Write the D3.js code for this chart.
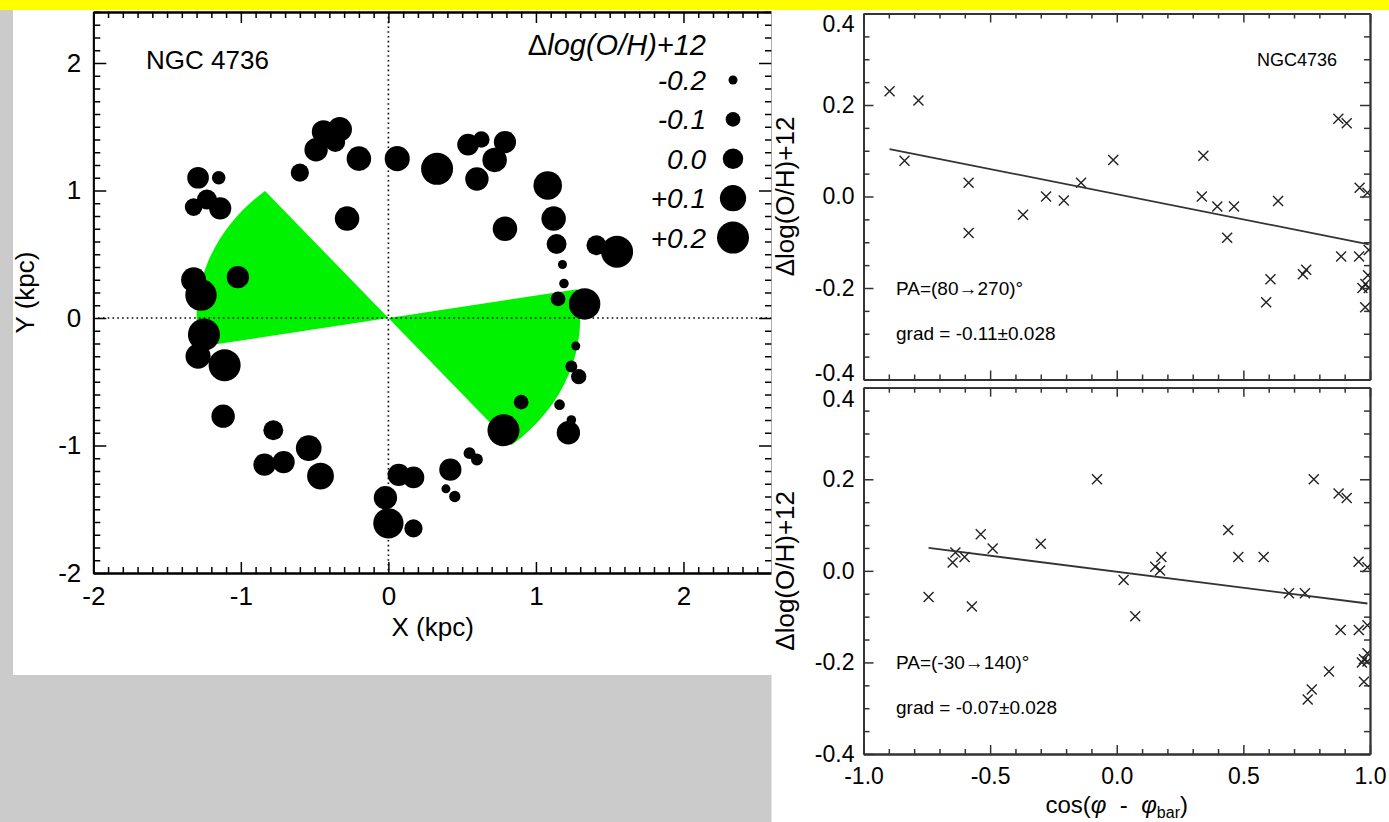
<!DOCTYPE html>
<html>
<head>
<meta charset="utf-8">
<script src="https://cdn.jsdelivr.net/npm/d3@7"></script>
<style>
  html, body { margin: 0; padding: 0; background: #cbcbcb; }
  svg { display: block; }
</style>
</head>
<body>
<svg id="fig" width="1389" height="822"></svg>
<script>
// ---------------- data ----------------
// HII regions of NGC 4736 in the deprojected disc plane (kpc)
const regionX = [-1.29, -1.15, -1.32, -1.23, -1.14, -1.32, -1.27, -1.02, -1.25, -1.29,
                 -1.11, -0.60, -0.44, -0.33, -0.36, -0.49, -0.20, 0.06, 0.33, 0.54,
                 0.63, 0.79, 0.72, 0.60, 1.08, 1.12, 0.79, -0.28, 1.14, 1.41,
                 1.55, 1.18, 1.19, 1.15, 1.33, 1.27, 1.24, 1.29, 0.90, 1.16,
                 0.78, 1.24, 1.22, 0.55, 0.60, 0.42, 0.07, 0.17, 0.39, 0.45,
                 -0.02, 0.00, 0.17, -1.12, -0.78, -0.84, -0.71, -0.54, -0.46];
const regionY = [1.10, 1.10, 0.87, 0.93, 0.86, 0.30, 0.18, 0.32, -0.13, -0.30,
                 -0.37, 1.14, 1.46, 1.48, 1.38, 1.32, 1.25, 1.25, 1.17, 1.36,
                 1.40, 1.38, 1.24, 1.09, 1.04, 0.78, 0.70, 0.78, 0.58, 0.57,
                 0.52, 0.42, 0.27, 0.15, 0.11, -0.22, -0.38, -0.46, -0.66, -0.68,
                 -0.88, -0.80, -0.90, -1.06, -1.11, -1.19, -1.23, -1.25, -1.34, -1.40,
                 -1.41, -1.61, -1.65, -0.77, -0.88, -1.15, -1.13, -1.02, -1.24];
// abundance residual Δlog(O/H)+12 of each region
const regionDZ = [0.02, -0.12, -0.05, -0.01, 0.03, 0.08, 0.19, 0.03, 0.20, 0.08,
                  0.20, -0.04, 0.05, 0.07, -0.01, 0.05, 0.07, 0.08, 0.20, 0.02,
                  -0.07, 0.03, 0.07, 0.05, 0.14, 0.07, 0.07, 0.07, -0.01, -0.01,
                  0.20, -0.20, -0.19, -0.10, 0.19, -0.20, -0.15, -0.09, -0.10, -0.17,
                  0.20, -0.19, 0.05, -0.15, -0.15, 0.03, 0.03, 0.02, -0.20, -0.16,
                  0.05, 0.17, -0.04, 0.05, -0.01, 0.03, 0.03, 0.09, 0.11];

const legendValues = [-0.2, -0.1, 0.0, 0.1, 0.2];
const legendLabels = ["-0.2", "-0.1", "0.0", "+0.1", "+0.2"];

// bar sectors (position angle in the disc plane, degrees from +X, counter-clockwise)
const sectorAngles = [[-50, 10], [130, 190]];
const sectorRadius = 1.3;

const mapMajorX = [-2, -1, 0, 1, 2];
const mapMajorY = [-2, -1, 0, 1, 2];

// residual versus cos(phi - phi_bar), two bar orientations
const cosA = [-0.897, -0.783, -0.838, -0.585, -0.585, -0.370, -0.279, -0.209, -0.141, -0.014,
              0.342, 0.336, 0.397, 0.463, 0.436, 0.637, 0.875, 0.908, 0.959, 0.990,
              0.886, 0.957, 0.995, 0.607, 0.590, 0.735, 0.748, 0.970, 0.982, 0.992,
              0.981, 0.995];
const dzA  = [0.230, 0.210, 0.078, 0.030, -0.080, -0.040, 0.000, -0.009, 0.030, 0.080,
              0.089, 0.000, -0.022, -0.022, -0.090, -0.010, 0.170, 0.160, 0.019, 0.008,
              -0.131, -0.131, -0.117, -0.181, -0.231, -0.170, -0.160, -0.200, -0.191, -0.172,
              -0.242, -0.200];
const cosB = [-0.743, -0.648, -0.637, -0.601, -0.537, -0.490, -0.572, -0.300, -0.078, 0.027,
              0.073, 0.152, 0.171, 0.176, 0.440, 0.480, 0.580, 0.680, 0.743, 0.778,
              0.876, 0.908, 0.955, 0.990, 0.884, 0.956, 0.990, 0.838, 0.770, 0.754,
              0.968, 0.976, 0.990, 0.976, 0.990];
const dzB  = [-0.057, 0.018, 0.040, 0.030, 0.080, 0.049, -0.078, 0.059, 0.200, -0.020,
              -0.099, 0.009, 0.001, 0.030, 0.089, 0.030, 0.030, -0.049, -0.049, 0.200,
              0.169, 0.159, 0.020, 0.008, -0.129, -0.129, -0.119, -0.220, -0.259, -0.281,
              -0.200, -0.193, -0.180, -0.242, -0.198];

const fitA = { slope: -0.11, intercept: 0.005, err: 0.028, pa: "(80\u2192270)\u00B0" };
const fitB = { slope: -0.07, intercept: -0.002, err: 0.028, pa: "(-30\u2192140)\u00B0" };

const resMajorX = [-1.0, -0.5, 0.0, 0.5, 1.0];
const resMajorY = [-0.4, -0.2, 0.0, 0.2, 0.4];

// ---------------- drawing ----------------
const W = 1389, H = 822;
const FONT = "'Liberation Sans', Arial, Helvetica, sans-serif";
const svg = d3.select("#fig");

svg.append("rect").attr("width", W).attr("height", H).attr("fill", "#cbcbcb");
svg.append("rect").attr("x", 0).attr("y", 0).attr("width", W).attr("height", 10).attr("fill", "#ffff00");
svg.append("rect").attr("x", 13).attr("y", 10).attr("width", 760).attr("height", 665).attr("fill", "#ffffff");

// draws one side of an IDL-style box axis: inward minor + major ticks, optional labels
function sideAxis(g, scale, orient, pos, majors, minors, majLen, minLen, o = {}) {
  const gen = { bottom: d3.axisBottom, top: d3.axisTop, left: d3.axisLeft, right: d3.axisRight }[orient];
  const horiz = orient === "bottom" || orient === "top";
  const tr = horiz ? `translate(0,${pos})` : `translate(${pos},0)`;
  const color = o.color || "#000";
  const gm = g.append("g").attr("transform", tr)
    .call(gen(scale).tickValues(minors).tickSizeInner(-minLen).tickSizeOuter(0).tickFormat(""));
  const gM = g.append("g").attr("transform", tr)
    .call(gen(scale).tickValues(majors).tickSizeInner(-majLen).tickSizeOuter(0)
      .tickPadding(o.pad || 0).tickFormat(o.fmt || (() => "")));
  [gm, gM].forEach(a => {
    a.attr("font-family", FONT).attr("font-size", o.fontSize || 20);
    a.select(".domain").attr("stroke", color).attr("stroke-width", o.lw || 1.8);
    a.selectAll(".tick line").attr("stroke", color).attr("stroke-width", o.tw || 1.5);
    a.selectAll(".tick text").attr("fill", "#000");
  });
  return gM;
}

// ===== left: map of regions =====
const mx = d3.scaleLinear().domain([-2, 2.6]).range([93.3, 772]);
const my = d3.scaleLinear().domain([-2, 2.4]).range([573, 12]);
const rScale = d3.scaleLinear().domain([-0.2, 0.2]).range([4.5, 16]);
const left = svg.append("g");

// bar sectors, drawn with d3.arc in x-pixel units and squeezed to the y scale
const kx = mx(1) - mx(0), ky = my(0) - my(1);
const arc = d3.arc().innerRadius(0).outerRadius(sectorRadius * kx);
left.selectAll("path.sector").data(sectorAngles).join("path")
  .attr("class", "sector")
  .attr("transform", `translate(${mx(0)},${my(0)}) scale(1,${ky / kx})`)
  .attr("d", d => arc({ startAngle: (90 - d[1]) * Math.PI / 180, endAngle: (90 - d[0]) * Math.PI / 180 }))
  .attr("fill", "#00f200");

// dotted zero lines
left.append("line").attr("x1", mx(0)).attr("x2", mx(0)).attr("y1", my(2.4)).attr("y2", my(-2))
  .attr("stroke", "#000").attr("stroke-width", 1.6).attr("stroke-dasharray", "1.6,3.2");
left.append("line").attr("x1", mx(-2)).attr("x2", mx(2.6)).attr("y1", my(0)).attr("y2", my(0))
  .attr("stroke", "#000").attr("stroke-width", 1.6).attr("stroke-dasharray", "1.6,3.2");

// regions
const regions = regionX.map((x, i) => ({ x, y: regionY[i], dz: regionDZ[i] }));
left.selectAll("circle.region").data(regions).join("circle")
  .attr("class", "region")
  .attr("cx", d => mx(d.x)).attr("cy", d => my(d.y)).attr("r", d => rScale(d.dz))
  .attr("fill", "#000");

// axes
const mMinX = d3.range(-20, 27).map(i => i / 10).filter(v => !mapMajorX.includes(v));
const mMinY = d3.range(-20, 25).map(i => i / 10).filter(v => !mapMajorY.includes(v));
sideAxis(left, mx, "bottom", my(-2), mapMajorX, mMinX, 11, 6, { pad: 14, fmt: d => String(d), fontSize: 26 });
sideAxis(left, mx, "top", my(2.4), mapMajorX, mMinX, 11, 6);
sideAxis(left, my, "left", mx(-2), mapMajorY, mMinY, 13, 7, { pad: 12, fmt: d => String(d), fontSize: 26 });
sideAxis(left, my, "right", mx(2.6), mapMajorY, mMinY, 13, 7);

left.append("text").attr("x", (mx(-2) + mx(2.6)) / 2).attr("y", 636)
  .attr("text-anchor", "middle").attr("font-family", FONT).attr("font-size", 26).text("X (kpc)");
left.append("text").attr("transform", `translate(34,${(my(-2) + my(2.4)) / 2}) rotate(-90)`)
  .attr("text-anchor", "middle").attr("font-family", FONT).attr("font-size", 26).text("Y (kpc)");
left.append("text").attr("x", 146).attr("y", 69)
  .attr("font-family", FONT).attr("font-size", 26).text("NGC 4736");

// size legend
const leg = left.append("g").attr("font-family", FONT);
const legTitle = leg.append("text").attr("x", 706).attr("y", 55).attr("text-anchor", "end").attr("font-size", 29);
legTitle.append("tspan").text("\u0394");
legTitle.append("tspan").attr("font-style", "italic").text("log(O/H)+12");
legendValues.forEach((v, i) => {
  const yy = 80 + i * 39.4;
  leg.append("text").attr("x", 706).attr("y", yy + 10).attr("text-anchor", "end")
    .attr("font-size", 28).attr("font-style", "italic").text(legendLabels[i]);
  leg.append("circle").attr("cx", 733).attr("cy", yy).attr("r", rScale(v)).attr("fill", "#000");
});

// ===== right: residual versus azimuth =====
svg.append("rect").attr("x", 771.5).attr("y", 10).attr("width", W - 771.5).attr("height", H - 10).attr("fill", "#ffffff");

const rx = d3.scaleLinear().domain([-1, 1]).range([863.5, 1370]);
const panels = [
  { cos: cosA, dz: dzA, fit: fitA, top: 13.5, bottom: 379.5, xlabels: false, name: "NGC4736" },
  { cos: cosB, dz: dzB, fit: fitB, top: 387.7, bottom: 754, xlabels: true, name: null }
];
const rMinX = d3.range(-10, 11).map(i => i / 10).filter(v => !resMajorX.some(m => Math.abs(m - v) < 1e-9));
const rMinY = d3.range(-8, 9).map(i => i / 20).filter(v => !resMajorY.some(m => Math.abs(m - v) < 1e-9));
const AX = "#333";

panels.forEach((p, k) => {
  const ry = d3.scaleLinear().domain([-0.4, 0.4]).range([p.bottom, p.top]);
  const g = svg.append("g");
  const clipId = "clip" + k;
  g.append("clipPath").attr("id", clipId).append("rect")
    .attr("x", rx(-1)).attr("y", ry(0.4)).attr("width", rx(1) - rx(-1)).attr("height", ry(-0.4) - ry(0.4));

  const pts = p.cos.map((c, i) => ({ c, v: p.dz[i] }));
  const plot = g.append("g").attr("clip-path", `url(#${clipId})`);
  plot.selectAll("path.cross").data(pts).join("path")
    .attr("class", "cross")
    .attr("transform", d => `translate(${rx(d.c)},${ry(d.v)})`)
    .attr("d", "M-5,-5L5,5M-5,5L5,-5")
    .attr("stroke", "#222").attr("stroke-width", 1.4).attr("fill", "none");

  const ext = d3.extent(p.cos);
  plot.append("path")
    .datum(ext.map(c => ({ c, v: p.fit.intercept + p.fit.slope * c })))
    .attr("d", d3.line().x(d => rx(d.c)).y(d => ry(d.v)))
    .attr("stroke", "#333").attr("stroke-width", 1.8).attr("fill", "none");

  const yl = sideAxis(g, ry, "left", rx(-1), resMajorY, rMinY, 10, 6,
    { pad: 9, fmt: d => d.toFixed(1), fontSize: 23, color: AX });
  yl.selectAll(".tick text").filter(d => d === 0.4).attr("y", 11);
  if (!p.xlabels) yl.selectAll(".tick text").filter(d => d === -0.4).attr("y", -6);
  sideAxis(g, ry, "right", rx(1), resMajorY, rMinY, 10, 6, { color: AX });
  sideAxis(g, rx, "top", ry(0.4), resMajorX, rMinX, 9, 5, { color: AX });
  sideAxis(g, rx, "bottom", ry(-0.4), resMajorX, rMinX, 9, 5,
    p.xlabels ? { pad: 14, fmt: d => d.toFixed(1), fontSize: 23, color: AX } : { color: AX });

  // y title
  g.append("text")
    .attr("transform", `translate(794,${(p.top + p.bottom) / 2}) rotate(-90)`)
    .attr("text-anchor", "middle").attr("font-family", FONT).attr("font-size", 26)
    .text("\u0394log(O/H)+12");

  // annotations
  g.append("text").attr("x", 896).attr("y", ry(-0.2) + 7)
    .attr("font-family", FONT).attr("font-size", 19).text("PA=" + p.fit.pa);
  g.append("text").attr("x", 896).attr("y", ry(-0.298) + 7)
    .attr("font-family", FONT).attr("font-size", 19)
    .text(`grad = ${p.fit.slope.toFixed(2)}\u00B1${p.fit.err.toFixed(3)}`);
  if (p.name) {
    g.append("text").attr("x", 1297).attr("y", 66).attr("text-anchor", "middle")
      .attr("font-family", FONT).attr("font-size", 18).text(p.name);
  }
});

// x title: cos(phi - phi_bar)
const xt = svg.append("text").attr("x", rx(0)).attr("y", 813).attr("text-anchor", "middle")
  .attr("font-family", FONT).attr("font-size", 24).attr("xml:space", "preserve");
xt.append("tspan").text("cos(");
xt.append("tspan").attr("font-style", "italic").text("\u03C6");
xt.append("tspan").text("  -  ");
xt.append("tspan").attr("font-style", "italic").text("\u03C6");
xt.append("tspan").attr("font-size", 16).attr("dy", 5).text("bar");
xt.append("tspan").attr("dy", -5).text(")");
</script>
</body>
</html>
